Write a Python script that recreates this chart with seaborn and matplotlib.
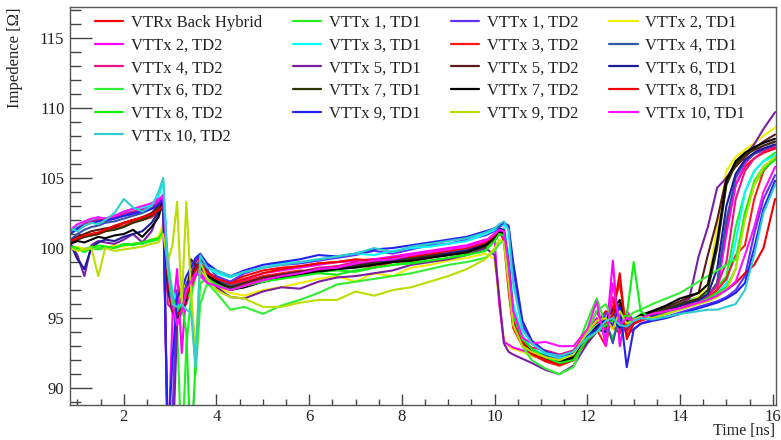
import numpy as np
import pandas as pd
import matplotlib
matplotlib.use("Agg")
import matplotlib.pyplot as plt
from matplotlib.lines import Line2D
from matplotlib.ticker import MultipleLocator
import seaborn as sns

# time grid [ns] shared by all traces
time_ns = [0.85, 1.0, 1.15, 1.3, 1.45, 1.6, 1.8, 2.0, 2.2, 2.4, 2.6, 2.75,
           2.85, 2.95, 3.05, 3.15, 3.25, 3.35, 3.45, 3.55, 3.65, 3.8,
           4.0, 4.3, 4.6, 5.0, 5.4, 5.8, 6.2, 6.6, 7.0, 7.4, 7.8, 8.2, 8.6, 9.0, 9.4, 9.8,
           10.0, 10.1, 10.2, 10.3, 10.4, 10.6, 10.8, 11.1, 11.4, 11.7,
           12.0, 12.2, 12.4, 12.55, 12.7, 12.85, 13.0, 13.15, 13.4, 13.7, 14.0,
           14.2, 14.4, 14.6, 14.8, 15.0, 15.2, 15.4, 15.6, 15.8, 16.05]

labels = ["VTRx Back Hybrid", "VTTx 1, TD1", "VTTx 1, TD2", "VTTx 2, TD1",
          "VTTx 2, TD2", "VTTx 3, TD1", "VTTx 3, TD2", "VTTx 4, TD1",
          "VTTx 4, TD2", "VTTx 5, TD1", "VTTx 5, TD2", "VTTx 6, TD1",
          "VTTx 6, TD2", "VTTx 7, TD1", "VTTx 7, TD2", "VTTx 8, TD1",
          "VTTx 8, TD2", "VTTx 9, TD1", "VTTx 9, TD2", "VTTx 10, TD1",
          "VTTx 10, TD2"]

colors = ["#ff0000", "#22ee22", "#6030ff", "#f2ee00",
          "#ff00ff", "#00ffff", "#ff1a1a", "#3355aa",
          "#ee1188", "#7a1fa2", "#5c1a1a", "#1c1c99",
          "#33ee33", "#2f3300", "#000000", "#ee0000",
          "#11ee11", "#2222ee", "#bbdd00", "#ff11ff",
          "#33cccc"]

vtrx_back = [100.6, 100.8, 100.9, 101.0, 101.1, 101.3, 101.5, 101.8, 102.0, 102.1, 102.4, 102.8,
             103.6, 99.0, 96.0, 95.4, 95.8, 96.5, 97.8, 98.6, 99.2, 98.3,
             97.9, 97.6, 98.0, 98.4, 98.6, 98.7, 98.9, 99.0, 99.1, 99.2, 99.3, 99.5, 99.6, 99.8, 100.0, 100.5,
             101.0, 101.3, 100.5, 97.0, 94.3, 93.0, 92.6, 92.3, 92.1, 92.4,
             93.8, 94.6, 95.5, 94.4, 93.9, 95.2, 94.6, 94.8, 95.1, 95.4, 95.8,
             96.0, 96.2, 96.6, 97.5, 101.5, 104.5, 105.8, 106.4, 106.8, 107.1]
vttx1_td1 = [100.2, 99.9, 99.8, 100.0, 99.9, 100.0, 100.1, 100.2, 100.3, 100.3, 100.5, 100.6,
             101.5, 97.5, 95.2, 94.5, 85.0, 93.0, 96.5, 98.0, 98.4, 97.8,
             97.5, 97.2, 97.6, 97.8, 98.0, 98.1, 98.3, 98.4, 98.3, 98.6, 98.8, 99.0, 99.1, 99.3, 99.6, 99.9,
             100.6, 101.2, 100.8, 98.0, 95.0, 93.2, 92.4, 92.0, 91.8, 92.3,
             94.8, 96.4, 94.5, 93.6, 95.0, 94.2, 94.9, 95.3, 95.2, 95.6, 96.1,
             96.3, 96.5, 96.8, 97.2, 98.0, 101.5, 104.0, 105.5, 106.2, 106.8]
vttx1_td2 = [101.2, 101.6, 101.8, 101.9, 102.0, 101.9, 102.1, 102.3, 102.4, 102.6, 102.9, 103.3,
             103.8, 85.0, 88.0, 97.0, 96.0, 97.5, 98.0, 99.2, 99.5, 98.8,
             98.0, 97.6, 98.2, 98.6, 98.8, 98.9, 99.1, 99.3, 99.5, 99.8, 99.6, 99.9, 100.2, 100.3, 100.6, 100.9,
             101.2, 101.5, 101.7, 101.5, 98.5, 94.5, 93.2, 92.5, 92.2, 92.4,
             93.6, 94.0, 95.3, 95.8, 95.0, 93.8, 94.2, 94.6, 94.9, 95.1, 95.4,
             95.6, 95.8, 96.0, 96.2, 96.5, 97.0, 98.0, 101.0, 103.5, 105.2]
vttx2_td1 = [100.0, 100.1, 99.9, 100.0, 100.1, 100.0, 100.2, 100.1, 100.3, 100.4, 100.6, 100.8,
             101.8, 98.0, 97.0, 96.0, 96.8, 98.0, 97.5, 98.4, 98.6, 97.8,
             97.2, 96.8, 96.6, 97.0, 97.2, 97.5, 97.8, 98.0, 97.6, 98.2, 98.0, 98.6, 98.8, 99.1, 99.3, 99.6,
             99.2, 96.0, 93.5, 93.0, 92.8, 92.6, 92.3, 92.1, 92.0, 92.5,
             94.2, 95.0, 94.6, 95.5, 94.4, 94.8, 95.0, 95.2, 95.4, 95.6, 96.0,
             96.2, 96.5, 97.5, 101.5, 105.5, 106.5, 107.0, 107.5, 108.0, 108.6]
vttx2_td2 = [101.2, 101.5, 101.8, 102.0, 102.1, 102.0, 102.2, 102.5, 102.6, 102.8, 103.0, 103.4,
             103.5, 85.0, 95.0, 98.5, 92.5, 97.0, 97.8, 98.5, 98.2, 97.6,
             97.4, 97.5, 97.7, 98.2, 98.4, 98.6, 98.8, 99.0, 99.1, 99.2, 99.4, 99.6, 99.8, 100.0, 100.2, 100.6,
             100.5, 96.0, 93.3, 93.1, 92.9, 92.7, 92.5, 92.3, 92.2, 92.6,
             94.0, 95.0, 93.5, 99.1, 93.0, 95.5, 94.8, 95.0, 95.2, 95.5, 95.8,
             96.0, 96.2, 96.5, 97.0, 101.0, 104.5, 106.0, 106.8, 107.3, 107.6]
vttx3_td1 = [101.0, 101.6, 101.9, 102.0, 102.2, 102.1, 102.3, 102.6, 102.8, 102.9, 103.1, 103.6,
             104.8, 99.0, 97.0, 96.0, 95.6, 96.8, 97.5, 98.4, 99.0, 98.6,
             98.2, 97.9, 98.3, 98.6, 98.9, 99.0, 99.2, 99.4, 99.6, 99.5, 99.8, 100.0, 100.1, 100.3, 100.5, 101.0,
             101.3, 101.6, 101.7, 99.5, 96.0, 93.8, 92.8, 92.4, 92.1, 92.5,
             93.8, 94.5, 94.8, 95.5, 94.6, 94.8, 95.0, 95.2, 95.0, 95.4, 95.7,
             95.9, 96.1, 96.4, 96.8, 97.5, 100.5, 104.0, 105.5, 106.2, 106.6]
vttx3_td2 = [100.4, 100.6, 100.8, 100.9, 101.0, 101.2, 101.4, 101.6, 101.9, 102.0, 102.2, 102.6,
             103.2, 98.0, 95.5, 95.0, 95.4, 96.2, 97.5, 98.4, 98.8, 98.0,
             97.7, 97.4, 97.6, 98.0, 98.2, 98.4, 98.3, 98.6, 98.8, 98.6, 99.0, 99.1, 99.3, 99.5, 99.7, 100.2,
             100.8, 101.2, 101.0, 98.0, 95.0, 93.2, 92.4, 91.9, 91.6, 92.0,
             93.5, 94.2, 93.0, 95.8, 97.5, 94.0, 94.6, 94.9, 95.2, 95.5, 95.9,
             96.1, 96.3, 96.5, 97.0, 97.8, 99.5, 100.2, 103.5, 105.5, 106.4]
vttx4_td1 = [100.6, 101.0, 101.3, 101.5, 101.6, 101.8, 101.9, 102.1, 102.3, 102.5, 102.8, 103.0,
             103.2, 97.5, 96.0, 95.2, 95.8, 97.2, 98.2, 98.8, 99.0, 98.2,
             97.8, 97.3, 97.5, 97.8, 98.1, 98.3, 98.5, 98.7, 98.9, 99.0, 99.1, 99.3, 99.5, 99.7, 99.9, 100.3,
             100.9, 101.3, 101.2, 99.0, 95.5, 93.5, 92.7, 92.3, 92.0, 92.2,
             93.6, 94.3, 94.8, 93.2, 95.4, 94.5, 94.7, 95.0, 95.1, 95.4, 95.8,
             96.0, 96.2, 96.6, 97.5, 102.0, 105.0, 106.2, 106.7, 107.0, 107.3]
vttx4_td2 = [101.0, 101.4, 101.7, 101.9, 102.0, 102.1, 102.2, 102.4, 102.6, 102.7, 102.9, 103.2,
             103.4, 96.0, 95.6, 96.5, 97.5, 96.0, 97.2, 98.0, 98.6, 98.0,
             97.6, 97.2, 97.4, 97.8, 98.0, 98.3, 98.6, 98.7, 99.0, 98.8, 99.1, 99.3, 99.5, 99.6, 99.8, 100.2,
             100.6, 101.0, 100.8, 97.5, 94.5, 93.3, 92.9, 92.7, 92.4, 92.7,
             94.0, 95.5, 94.0, 96.5, 94.0, 95.2, 94.8, 95.0, 95.3, 95.5, 95.8,
             96.0, 96.3, 96.6, 97.3, 99.0, 103.5, 105.5, 106.4, 106.9, 107.2]
vttx5_td1 = [100.3, 99.5, 98.0, 100.2, 100.5, 100.4, 100.3, 100.6, 101.0, 100.4, 101.2, 102.5,
             103.0, 86.0, 85.0, 94.5, 96.5, 97.0, 98.0, 99.0, 99.4, 98.5,
             97.2, 96.5, 96.4, 96.9, 97.2, 97.1, 97.6, 97.9, 98.0, 98.2, 98.4, 98.8, 99.0, 99.2, 99.5, 100.0,
             99.5, 96.5, 93.2, 92.6, 92.4, 92.1, 91.8, 91.3, 91.0, 91.6,
             93.2, 94.0, 94.8, 95.4, 94.6, 94.2, 94.8, 95.0, 95.3, 95.6, 96.0,
             96.4, 99.4, 101.5, 104.3, 105.0, 106.0, 106.6, 107.4, 108.5, 109.7]
vttx5_td2 = [100.5, 100.8, 101.0, 101.2, 101.3, 101.4, 101.5, 101.8, 102.0, 102.2, 102.5, 103.0,
             103.3, 98.5, 95.8, 95.0, 95.5, 96.3, 99.2, 98.8, 98.7, 98.0,
             97.6, 97.2, 97.5, 97.9, 98.1, 98.3, 98.5, 98.6, 98.8, 99.0, 99.2, 99.3, 99.5, 99.6, 99.8, 100.3,
             100.8, 101.2, 100.9, 97.8, 94.8, 93.2, 92.5, 92.0, 91.8, 92.1,
             93.4, 94.2, 94.6, 95.2, 96.0, 94.4, 94.8, 95.2, 95.5, 95.8, 96.2,
             96.5, 96.8, 99.5, 102.0, 105.0, 105.8, 106.5, 107.1, 107.6, 108.1]
vttx6_td1 = [100.3, 99.2, 98.5, 100.0, 100.4, 100.6, 100.5, 100.8, 101.0, 101.2, 101.8, 102.6,
             103.0, 97.0, 95.5, 95.2, 95.8, 97.0, 98.0, 98.6, 98.9, 98.2,
             97.7, 97.1, 97.2, 97.6, 97.9, 98.2, 98.4, 98.5, 98.7, 98.9, 99.1, 99.2, 99.4, 99.6, 99.8, 100.2,
             100.9, 101.4, 101.3, 98.8, 95.2, 93.3, 92.6, 92.1, 91.9, 92.2,
             93.5, 94.2, 94.0, 95.0, 94.3, 94.9, 94.6, 95.0, 95.2, 95.5, 95.9,
             96.1, 96.3, 96.7, 98.5, 103.0, 105.3, 106.3, 106.8, 107.1, 107.4]
vttx6_td2 = [100.0, 99.8, 99.9, 100.1, 100.0, 100.1, 100.0, 100.2, 100.3, 100.4, 100.5, 100.6,
             101.0, 99.5, 96.0, 94.8, 95.5, 96.5, 96.8, 91.0, 96.0, 97.5,
             96.8, 95.6, 95.8, 95.3, 95.9, 96.3, 96.8, 97.4, 97.6, 97.8, 98.0, 98.2, 98.5, 98.8, 99.0, 99.3,
             99.8, 100.3, 100.5, 98.5, 95.0, 93.0, 92.0, 91.4, 91.0, 91.5,
             94.0, 95.5, 96.0, 94.8, 95.2, 95.0, 95.4, 95.6, 96.0, 96.4, 96.8,
             97.2, 97.6, 98.0, 98.4, 98.8, 99.2, 102.5, 104.8, 105.8, 106.4]
vttx7_td1 = [100.4, 100.6, 100.8, 100.9, 101.0, 101.2, 101.3, 101.5, 101.8, 102.0, 102.3, 102.8,
             103.0, 98.0, 95.6, 95.2, 95.6, 96.8, 98.0, 98.6, 98.8, 98.0,
             97.6, 97.2, 97.3, 97.7, 98.0, 98.2, 98.4, 98.6, 98.7, 98.9, 99.0, 99.2, 99.4, 99.5, 99.7, 100.1,
             100.7, 101.1, 101.0, 98.2, 95.0, 93.2, 92.5, 92.1, 91.9, 92.2,
             93.5, 94.3, 94.4, 95.0, 94.6, 94.8, 94.9, 95.1, 95.4, 95.7, 96.0,
             96.2, 96.4, 97.0, 100.0, 104.5, 106.0, 106.7, 107.0, 107.3, 107.6]
vttx7_td2 = [100.3, 100.5, 100.4, 100.6, 100.8, 100.7, 100.9, 101.0, 101.3, 100.8, 101.5, 102.2,
             103.4, 97.6, 95.8, 95.0, 95.4, 96.4, 97.8, 98.5, 98.8, 98.1,
             97.6, 97.0, 97.2, 97.6, 97.9, 98.1, 98.3, 98.5, 98.6, 98.8, 99.0, 99.1, 99.3, 99.5, 99.7, 100.2,
             100.8, 101.2, 101.1, 98.5, 95.2, 93.4, 92.6, 92.1, 91.9, 92.2,
             93.6, 94.4, 94.9, 95.6, 96.3, 94.5, 94.9, 95.2, 95.5, 95.9, 96.4,
             96.6, 96.8, 97.4, 100.5, 104.8, 106.2, 106.8, 107.2, 107.5, 107.8]
vttx8_td1 = [100.5, 100.7, 100.9, 101.0, 101.1, 101.3, 101.6, 101.8, 102.0, 102.2, 102.4, 102.7,
             103.0, 97.8, 95.6, 95.2, 95.6, 96.6, 97.6, 98.5, 98.9, 98.2,
             97.8, 97.5, 97.8, 98.2, 98.5, 98.7, 98.9, 99.0, 99.2, 99.1, 99.3, 99.4, 99.6, 99.8, 100.0, 100.4,
             100.9, 101.3, 101.2, 98.5, 95.0, 93.3, 92.5, 92.0, 91.7, 92.0,
             93.6, 94.2, 94.6, 95.2, 98.2, 93.5, 94.6, 95.0, 95.3, 95.5, 95.7,
             95.9, 96.1, 96.3, 96.6, 97.0, 97.5, 98.2, 98.8, 100.0, 103.5]
vttx8_td2 = [100.1, 100.0, 99.7, 100.0, 100.2, 100.1, 100.0, 100.3, 100.2, 100.4, 100.6, 100.7,
             101.2, 98.5, 96.5, 95.5, 96.0, 94.0, 85.0, 92.0, 97.5, 97.8,
             97.4, 97.0, 97.3, 97.6, 97.8, 98.0, 98.2, 98.1, 98.4, 98.6, 98.8, 98.9, 99.1, 99.3, 99.5, 99.8,
             100.5, 101.0, 100.9, 98.4, 95.2, 93.5, 92.8, 92.2, 91.8, 92.0,
             93.5, 94.0, 94.5, 94.8, 95.0, 95.2, 99.0, 95.5, 94.9, 95.3, 95.7,
             95.9, 96.1, 96.4, 96.8, 97.2, 98.5, 102.5, 104.5, 105.6, 106.3]
vttx9_td1 = [101.0, 101.4, 101.6, 101.8, 101.9, 102.0, 102.1, 102.3, 102.5, 102.6, 102.8, 103.1,
             103.5, 86.0, 92.0, 96.5, 97.0, 98.0, 98.6, 99.3, 99.6, 98.9,
             98.4, 98.0, 98.4, 98.8, 99.0, 99.2, 99.5, 99.4, 99.6, 99.9, 100.0, 100.2, 100.4, 100.6, 100.8, 101.2,
             101.4, 101.6, 101.8, 101.6, 99.0, 94.8, 93.4, 92.6, 92.3, 92.5,
             93.7, 94.2, 94.9, 94.5, 95.8, 91.5, 94.2, 94.6, 94.8, 95.0, 95.3,
             95.5, 95.7, 95.9, 96.1, 96.4, 96.8, 97.5, 100.0, 102.8, 104.8]
vttx9_td2 = [100.0, 99.8, 99.9, 100.0, 98.0, 100.0, 99.8, 99.9, 100.0, 100.1, 100.3, 100.4,
             101.0, 99.0, 100.2, 103.3, 96.0, 103.3, 97.0, 92.5, 99.0, 97.8,
             97.0, 96.5, 96.4, 95.8, 95.8, 96.1, 96.3, 96.3, 96.9, 96.6, 97.0, 97.2, 97.6, 98.0, 98.5, 99.2,
             100.0, 100.6, 100.4, 97.5, 94.5, 93.0, 92.6, 92.2, 92.0, 92.4,
             94.0, 94.8, 95.0, 94.2, 95.5, 94.6, 94.9, 95.1, 95.0, 95.3, 95.6,
             95.8, 96.0, 96.2, 96.5, 97.0, 98.5, 102.0, 104.5, 105.8, 106.5]
vttx10_td1 = [101.3, 101.7, 101.9, 102.1, 102.2, 102.1, 102.3, 102.6, 102.8, 103.0, 103.2, 103.5,
              103.7, 98.5, 96.0, 94.5, 95.5, 97.0, 97.6, 98.2, 98.0, 97.5,
              97.3, 97.0, 97.3, 97.7, 98.0, 98.2, 98.5, 98.6, 98.9, 99.1, 99.2, 99.5, 99.7, 99.9, 100.1, 100.5,
              101.0, 101.3, 101.2, 98.8, 95.5, 93.6, 93.2, 93.3, 93.0, 93.0,
              94.2, 96.2, 93.0, 97.5, 94.5, 95.0, 94.8, 95.0, 95.3, 95.5, 95.7,
              95.9, 96.1, 96.3, 96.6, 97.0, 97.6, 99.5, 101.5, 104.0, 105.8]
vttx10_td2 = [101.4, 101.2, 101.6, 101.8, 101.7, 102.0, 102.5, 103.5, 102.9, 102.6, 103.0, 104.0,
              105.0, 98.5, 96.0, 95.8, 96.0, 95.6, 95.4, 91.5, 99.5, 98.6,
              98.4, 98.0, 98.3, 98.6, 98.8, 99.0, 99.2, 99.4, 99.6, 100.0, 99.7, 100.1, 100.3, 100.5, 100.7, 101.1,
              101.4, 101.7, 101.9, 101.3, 97.5, 94.2, 93.2, 92.5, 92.3, 92.6,
              93.6, 94.0, 94.8, 95.0, 94.5, 94.4, 94.8, 95.0, 94.9, 95.1, 95.3,
              95.4, 95.5, 95.6, 95.6, 95.8, 96.0, 97.0, 99.5, 102.5, 104.5]

traces = [vtrx_back, vttx1_td1, vttx1_td2, vttx2_td1, vttx2_td2, vttx3_td1, vttx3_td2,
          vttx4_td1, vttx4_td2, vttx5_td1, vttx5_td2, vttx6_td1, vttx6_td2, vttx7_td1,
          vttx7_td2, vttx8_td1, vttx8_td2, vttx9_td1, vttx9_td2, vttx10_td1, vttx10_td2]

df = pd.concat([pd.DataFrame({"time": time_ns, "imp": v, "trace": name})
                for name, v in zip(labels, traces)], ignore_index=True)

sns.set_style("white")
plt.rcParams["font.family"] = ["Liberation Serif", "DejaVu Serif"]

fig = plt.figure(figsize=(7.81, 4.40), dpi=100)
ax = fig.add_axes([70 / 781, 35 / 440, 706 / 781, 398 / 440])

sns.lineplot(data=df, x="time", y="imp", hue="trace", hue_order=labels,
             palette=colors, estimator=None, sort=False, linewidth=1.5,
             legend=False, ax=ax)

ax.set_xlim(0.84, 16.07)
ax.set_ylim(88.8, 117.2)
ax.xaxis.set_major_locator(MultipleLocator(2))
ax.xaxis.set_minor_locator(MultipleLocator(0.5))
ax.yaxis.set_major_locator(MultipleLocator(5))
ax.yaxis.set_minor_locator(MultipleLocator(1))
ax.tick_params(axis="x", which="both", bottom=True, top=False, direction="in", width=1,
               color="#444444")
ax.tick_params(axis="y", which="both", left=True, right=False, direction="in", width=1,
               color="#444444")
ax.tick_params(axis="x", which="major", length=8, labelsize=12, pad=3, labelcolor="#222222")
ax.tick_params(axis="x", which="minor", length=4)
ax.tick_params(axis="y", which="major", length=16, labelsize=12, pad=4, labelcolor="#222222")
ax.tick_params(axis="y", which="minor", length=8)
for s in ax.spines.values():
    s.set_color("#555555")
    s.set_linewidth(1.0)
ax.set_xlabel("")
ax.set_ylabel("")

fig.text(15 / 781, 1 - 8 / 440, "Impedence [Ω]", rotation=90, ha="center", va="top",
         fontsize=12, color="#222222")
fig.text(775 / 781, 1 / 440, "Time [ns]", ha="right", va="bottom",
         fontsize=11.5, color="#222222")

# legend filled row by row, like the original
order = [i for c in range(4) for i in range(c, len(labels), 4)]
handles = [Line2D([], [], color=colors[i], lw=1.6) for i in order]
ax.legend(handles, [labels[i] for i in order], ncol=4, frameon=False,
          loc="upper left", bbox_to_anchor=(95 / 781, 1 - 15 / 440),
          bbox_transform=fig.transFigure, fontsize=12, handlelength=1.7,
          handletextpad=0.45, columnspacing=1.85, labelspacing=0.4,
          borderpad=0, borderaxespad=0, labelcolor="#222222")

fig.savefig("out.png", dpi=100)
